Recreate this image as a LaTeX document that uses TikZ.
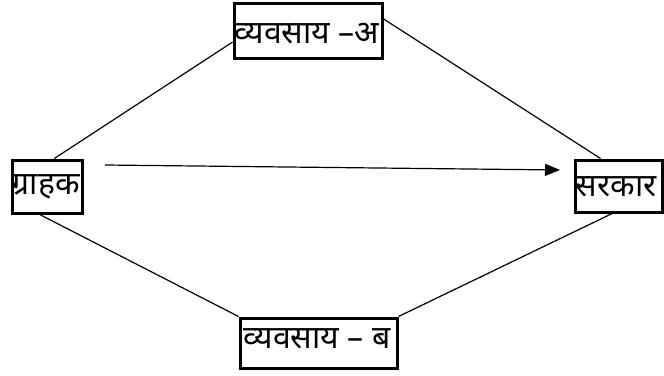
\documentclass[tikz,border=0pt]{standalone}
\usepackage{fontspec}
\newfontfamily\dev[Script=Devanagari]{Noto Sans}
\usetikzlibrary{arrows.meta,calc}
\begin{document}
\begin{tikzpicture}[x=1pt,y=-1pt,
  box/.style={draw,line width=3pt,inner sep=0pt},
  txt/.style={inner sep=0pt,anchor=base west,font=\dev\fontsize{32}{36}\selectfont},
  conn/.style={line width=1.2pt}]
\useasboundingbox (0,0) rectangle (664,375);
\node[box,minimum width=148pt,minimum height=55pt] (t) at (308,30.5) {};
\node[box,minimum width=70pt,minimum height=53pt] (l) at (47,186.5) {};
\node[box,minimum width=87pt,minimum height=52pt] (r) at (618.5,186) {};
\node[box,minimum width=157pt,minimum height=50pt] (b) at (318.5,343) {};
\node[txt] (tt) at ($(t.south west)+(2,-16)$) {व्यवसाय –अ};
\node[txt] (lt) at ($(l.south west)+(1,-20)$) {ग्राहक};
\node[txt] (rt) at ($(r.south west)+(2,-17)$) {सरकार};
\node[txt] (bt) at ($(b.south west)+(5,-21)$) {व्यवसाय – ब};
\coordinate (as) at (105,165);
\coordinate (ae) at (560,170);
\draw[conn] ($(l.north west)!0.6!(l.north east)$) -- ($(t.north west)!0.7!(t.south west)$);
\draw[conn] ($(t.north east)!0.3!(t.south east)$) -- ($(r.north west)!0.3!(r.north east)$);
\draw[conn] ($(l.south west)!0.4!(l.south east)$) -- (b.north west);
\draw[conn] (b.north east) -- ($(r.south west)!0.43!(r.south east)$);
\draw[conn,-{Triangle[length=15pt,width=12pt]}] (as) -- (ae);
\end{tikzpicture}
\end{document}
